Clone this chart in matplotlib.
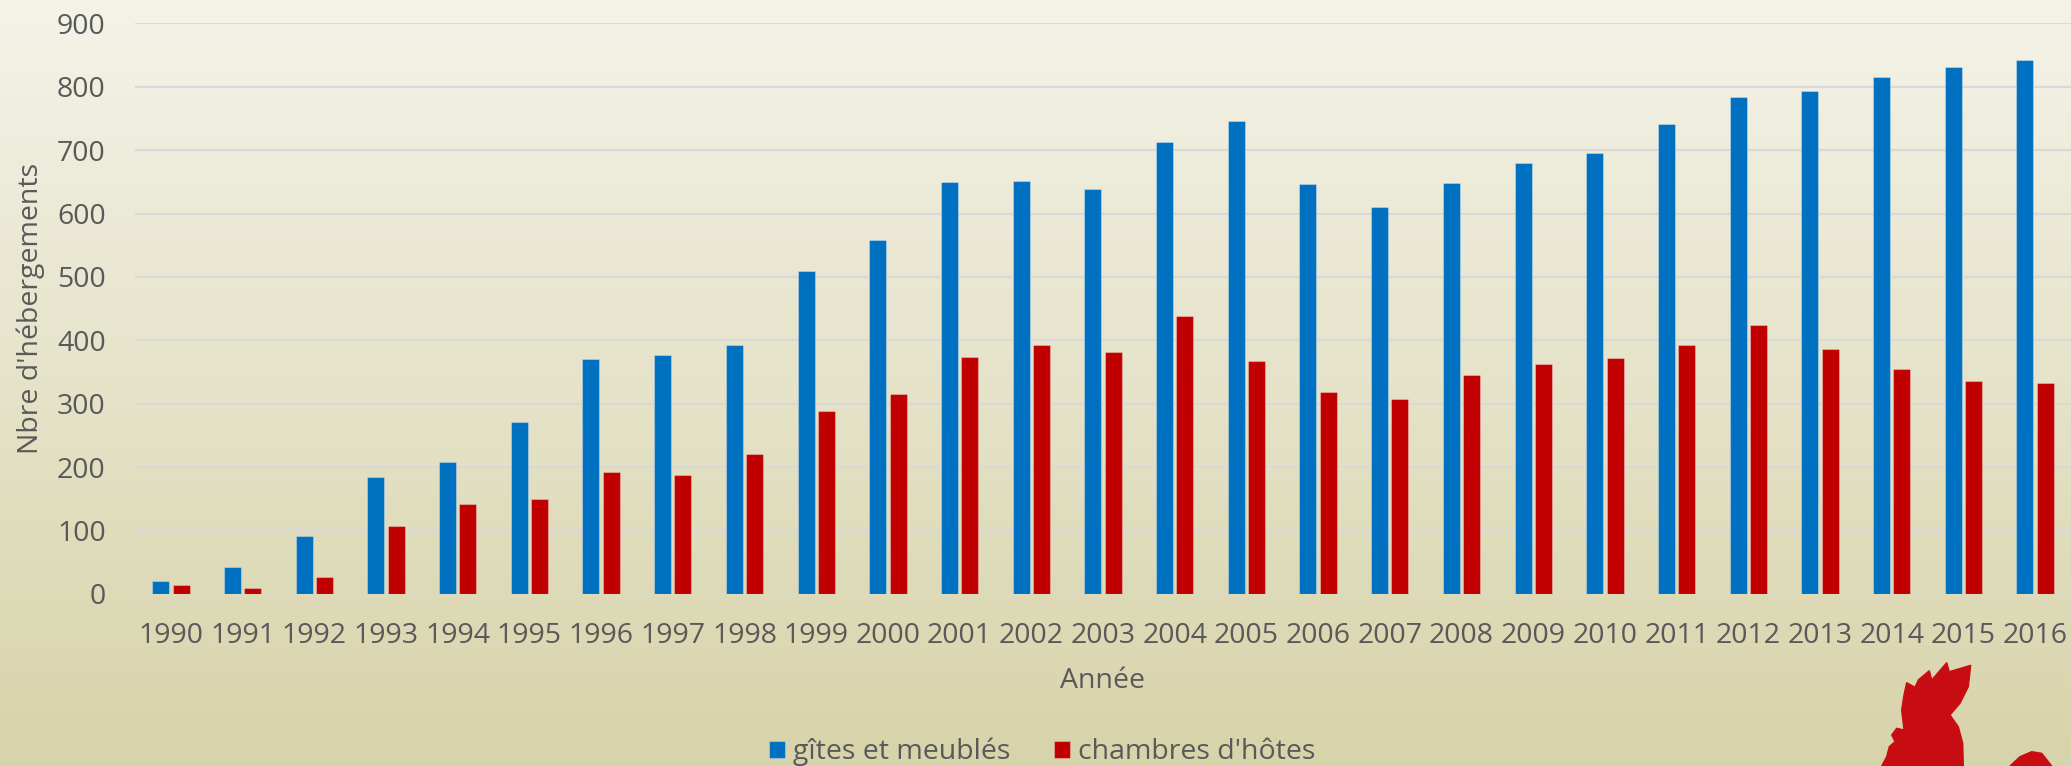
import numpy as np
import matplotlib
matplotlib.use("Agg")
import matplotlib.pyplot as plt
from matplotlib.patches import Polygon

plt.rcParams['font.family'] = ['Open Sans', 'DejaVu Sans']

annees = [str(a) for a in range(1990, 2017)]
gites = [20, 42, 92, 185, 208, 271, 371, 377, 392, 509, 559, 650, 651, 639,
         713, 746, 646, 611, 648, 680, 696, 741, 783, 794, 816, 831, 842]
chambres = [14, 10, 27, 107, 142, 150, 192, 188, 220, 289, 315, 374, 392, 381,
            439, 368, 318, 307, 346, 363, 372, 393, 425, 387, 355, 336, 333]

gris = '#595959'
fs = 20.5
W, H = 2071, 766
fig = plt.figure(figsize=(W / 100, H / 100), dpi=100)

# fond en degrade (clair en haut, kaki en bas)
bg = fig.add_axes([0, 0, 1, 1], zorder=-10)
haut = np.array([244, 243, 232]) / 255
bas = np.array([215, 211, 170]) / 255
t = np.linspace(0, 1, 256)[:, None]
grad = haut * (1 - t) + bas * t
bg.imshow(grad[:, None, :], aspect='auto', extent=[0, 1, 0, 1])
bg.set_axis_off()

ax = fig.add_axes([135 / W, 1 - 594 / H, 1 - 135 / W, (594 - 23.3) / H])
ax.patch.set_alpha(0)

x = np.arange(len(annees))
larg = 0.237
ax.bar(x - 0.142, gites, larg, color='#0070C0', label='gîtes et meublés', zorder=3,
       edgecolor=(1, 1, 1, 0.3), linewidth=0.8)
ax.bar(x + 0.142, chambres, larg, color='#C00000', label="chambres d'hôtes", zorder=3,
       edgecolor=(1, 1, 1, 0.3), linewidth=0.8)

ax.set_xlim(-0.5, len(annees) - 0.5)
ax.set_ylim(0, 900)
ax.set_yticks(range(0, 901, 100))
ax.set_xticks(x)
ax.set_xticklabels(annees)
ax.yaxis.grid(True, color='#D9D9D9', linewidth=1.6, zorder=0)
ax.set_axisbelow(True)
ax.axhline(0, color='#D9D9D9', linewidth=1.6, zorder=1)
for s in ax.spines.values():
    s.set_visible(False)
ax.tick_params(axis='both', length=0, labelsize=fs, labelcolor=gris)
ax.tick_params(axis='y', pad=21)
ax.tick_params(axis='x', pad=20)

ax.set_xlabel('Année', fontsize=fs, color=gris)
ax.xaxis.set_label_coords(0.5, -0.128)
ax.set_ylabel("Nbre d'hébergements", fontsize=fs, color=gris)
ax.yaxis.set_label_coords(-90 / (W - 135), 0.5)

leg = fig.legend(loc='center', bbox_to_anchor=(1042 / W, 1 - 752 / H), ncol=2,
                 frameon=False, fontsize=fs, handlelength=0.55, handleheight=0.55,
                 handletextpad=0.28, columnspacing=1.55, borderpad=0)
for txt in leg.get_texts():
    txt.set_color(gris)

# coq stylise en bas a droite
coq = [(1881.7, 766), (1886.7, 756.7), (1889.3, 746.7), (1895, 741.7),
       (1891.7, 735), (1896.7, 728.3), (1904, 730), (1901.7, 710),
       (1904, 695), (1906.7, 682.7), (1915, 687.3), (1918.3, 680),
       (1929.3, 670.7), (1931.7, 680), (1946.7, 662.7), (1949.3, 671.7),
       (1970.7, 665.3), (1968.3, 686.7), (1960, 703.3), (1950, 715),
       (1958.3, 726.7), (1962.7, 743.3), (1963.3, 766)]
queue = [(2010, 766), (2020, 756.7), (2031.7, 751.7), (2041.7, 753.3), (2051.7, 766)]
for pts in (coq, queue):
    fig.patches.append(Polygon([(px / W, 1 - py / H) for px, py in pts],
                               closed=True, color='#C80D12',
                               transform=fig.transFigure, zorder=5))

fig.savefig('out.png', dpi=100)
